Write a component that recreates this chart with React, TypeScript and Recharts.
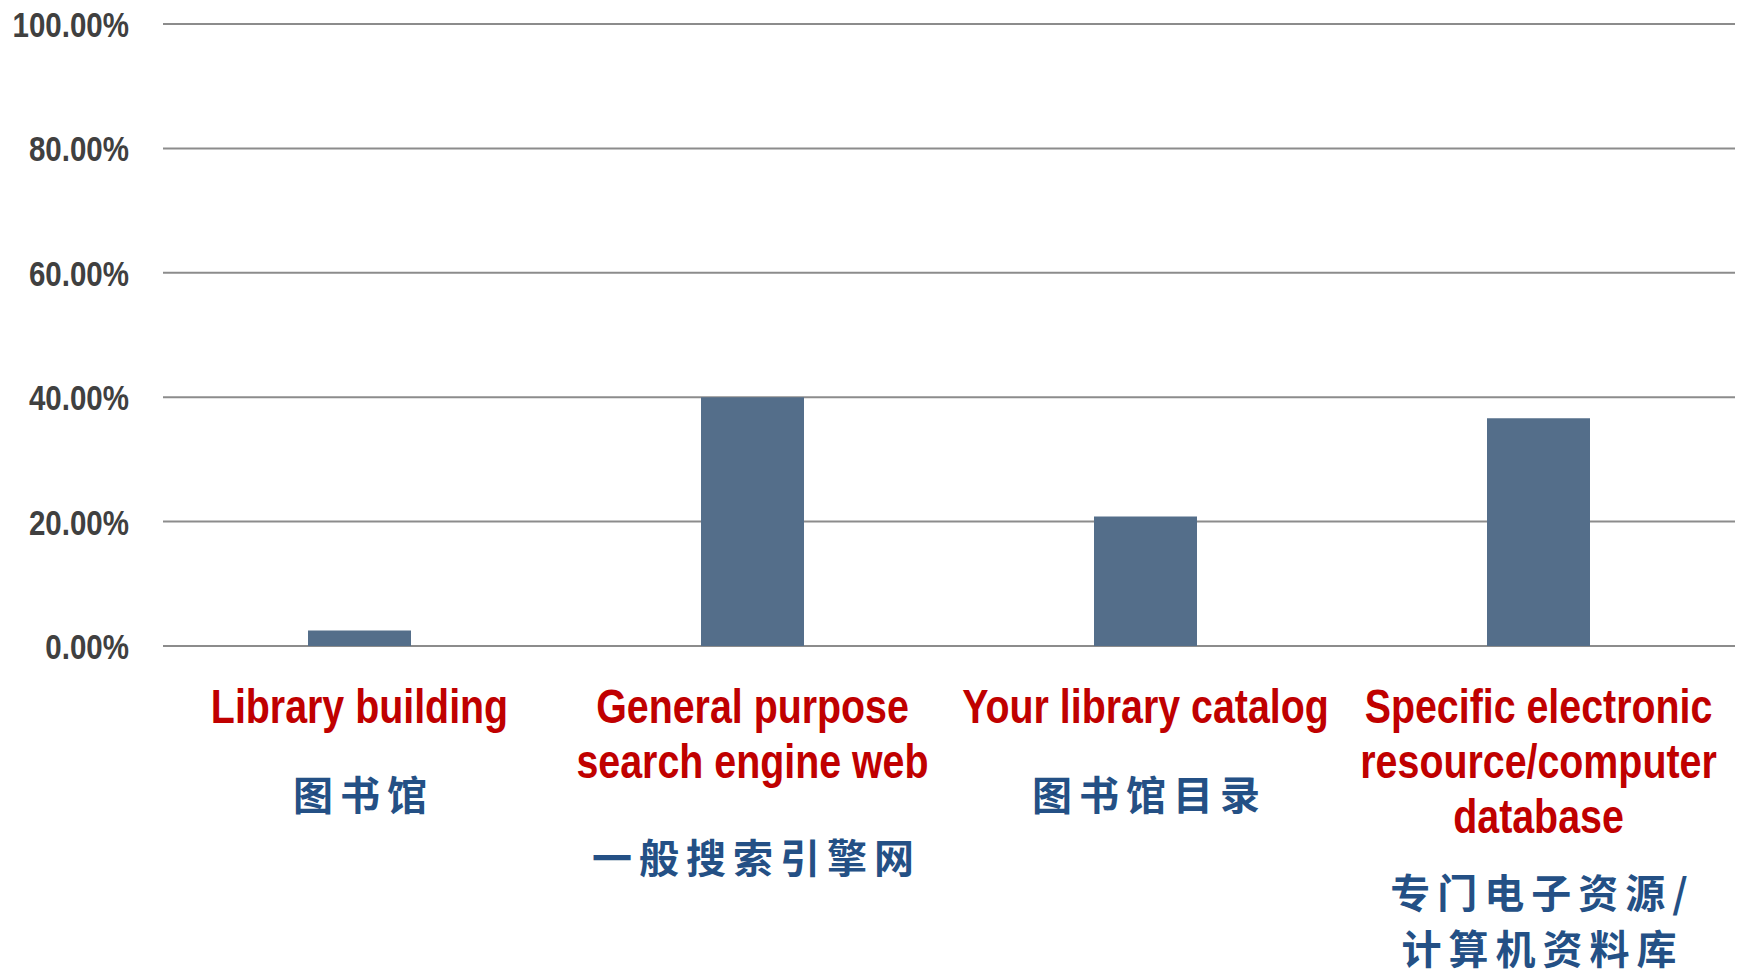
import { BarChart, Bar, XAxis, YAxis, CartesianGrid } from "recharts";

const categoriesEn = [
  ["Library building"],
  ["General purpose", "search engine web"],
  ["Your library catalog"],
  ["Specific electronic", "resource/computer", "database"],
];
const categoriesZh = [
  ["图书馆"],
  ["一般搜索引擎网"],
  ["图书馆目录"],
  ["专门电子资源/", "计算机资料库"],
];
const shares = [0.025, 0.4, 0.208, 0.366];
const yTicks = [0, 0.2, 0.4, 0.6, 0.8, 1.0];

const data = shares.map((v, i) => ({ idx: i, value: v }));

// no Arial Narrow offline: squeeze Liberation Sans bold horizontally instead
const sans = "'Liberation Sans', Arial, sans-serif";
const squeeze = 0.82;
const zhFont = "'Noto Sans CJK SC', sans-serif";

// vertical offset of the first chinese line below the axis, per category
const zhOffset = [148, 211, 148, 246];

const CategoryTick = (props: any) => {
  const { x, y, payload } = props;
  const i = payload.value as number;
  const en = categoriesEn[i];
  const zh = categoriesZh[i];
  return (
    <g>
      {en.map((line, k) => (
        <g key={"en" + k} transform={`translate(${x},${y + 77 + k * 55}) scale(${squeeze},1)`}>
          <text
            x={0}
            y={0}
            textAnchor="middle"
            fill="#C00000"
            fontFamily={sans}
            fontWeight="bold"
            fontSize={48}
          >
            {line}
          </text>
        </g>
      ))}
      {zh.map((line, k) => (
        <text
          key={"zh" + k}
          x={x + 4}
          y={y + zhOffset[i] + 16 + k * 56}
          textAnchor="middle"
          fill="#245085"
          fontFamily={zhFont}
          fontWeight="bold"
          fontSize={40}
          letterSpacing={7}
        >
          {line}
        </text>
      ))}
    </g>
  );
};

const PercentTick = (props: any) => {
  const { x, y, payload } = props;
  return (
    <g transform={`translate(${x},${y}) scale(${squeeze},1)`}>
      <text
        x={0}
        y={0}
        dy="0.36em"
        textAnchor="end"
        fill="#404040"
        fontFamily={sans}
        fontWeight="bold"
        fontSize={36}
      >
        {(payload.value * 100).toFixed(2) + "%"}
      </text>
    </g>
  );
};

const App = () => {
  return (
    <div style={{ position: "absolute", left: 0, top: 0, background: "#fff" }}>
      <BarChart
        width={1738}
        height={978}
        data={data}
        margin={{ top: 24, right: 3, left: 0, bottom: 0 }}
      >
        <CartesianGrid vertical={false} stroke="#8c8c8c" strokeWidth={2} />
        <XAxis
          dataKey="idx"
          axisLine={false}
          tickLine={false}
          tickSize={0}
          tickMargin={0}
          height={332}
          interval={0}
          tick={<CategoryTick />}
        />
        <YAxis
          domain={[0, 1]}
          ticks={yTicks}
          axisLine={false}
          tickLine={false}
          tickSize={0}
          tickMargin={34}
          width={163}
          tick={<PercentTick />}
        />
        <Bar dataKey="value" fill="#546E8A" barSize={103} isAnimationActive={false} />
      </BarChart>
    </div>
  );
};

export default App;
